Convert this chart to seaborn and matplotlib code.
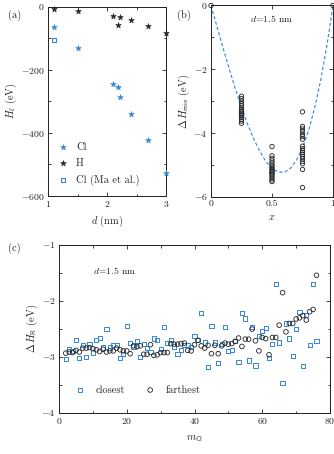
import matplotlib
matplotlib.use("Agg")
import matplotlib.pyplot as plt
import seaborn as sns
import numpy as np
import pandas as pd
from matplotlib.ticker import MultipleLocator

sns.set_style("ticks")
plt.rcParams['font.family'] = ['serif']
plt.rcParams['font.serif'] = ['cmr10', 'DejaVu Serif']
plt.rcParams['mathtext.fontset'] = 'cm'
plt.rcParams['axes.formatter.use_mathtext'] = True
plt.rcParams['font.size'] = 7

BLUE = "#3385d6"
DARK = "#222222"

# (a) formation enthalpy vs nanotube diameter
d_nm = [1.1, 1.5, 2.1, 2.18, 2.22, 2.4, 2.7, 3.0]
hf_cl = [-66, -132, -246, -256, -287, -340, -424, -526]
hf_h = [-7, -14, -30, -60, -34, -44, -61, -85]
d_ma = [1.1]
hf_ma = [-106]

# (b) mixing enthalpy, d = 1.5 nm
mix_x0 = [0.0]
mix_y0 = [0.0]
mix_y25 = [-2.85, -2.92, -3.0, -3.08, -3.15, -3.22, -3.28, -3.33, -3.38,
           -3.42, -3.47, -3.52, -3.58, -3.63, -3.70]
mix_y50 = [-4.43, -4.72, -4.80, -4.88, -4.95, -5.02, -5.08, -5.13, -5.18,
           -5.22, -5.26, -5.30, -5.36, -5.42, -5.48, -5.53]
mix_y75 = [-3.34, -3.80, -3.88, -3.96, -4.05, -4.12, -4.20, -4.42, -4.50,
           -4.56, -4.62, -4.68, -4.75, -4.82, -4.90, -4.97, -5.15, -5.72]
mix_y100 = [0.0]
fit_x = [0.0, 0.05, 0.1, 0.15, 0.2, 0.25, 0.3, 0.35, 0.4, 0.45, 0.5,
         0.55, 0.6, 0.65, 0.7, 0.75, 0.8, 0.85, 0.9, 0.95, 1.0]
fit_y = [0.0, -0.68, -1.35, -2.00, -2.62, -3.20, -3.73, -4.19, -4.58, -4.90,
         -5.12, -5.23, -5.24, -5.12, -4.87, -4.47, -3.93, -3.21, -2.33, -1.26, 0.0]

# (c) reaction enthalpy vs number of Cl
m_cl = list(range(2, 77))
hr_closest = [-3.05, -2.86, -2.90, -2.71, -3.02, -2.80, -3.01, -2.77, -2.93,
              -2.71, -2.67, -2.84, -2.51, -2.84, -2.79, -2.80, -3.02, -2.96,
              -2.46, -2.76, -2.82, -2.73, -3.01, -2.77, -2.85, -2.92, -2.68,
              -2.71, -2.86, -2.47, -2.76, -2.71, -2.82, -2.95, -2.89, -2.79,
              -2.80, -2.83, -2.64, -2.71, -2.22, -2.75, -3.19, -2.46, -2.75,
              -3.11, -2.78, -2.47, -2.90, -2.88, -2.72, -3.10, -2.22, -2.32,
              -3.07, -2.48, -3.16, -2.64, -2.55, -2.49, -3.02, -2.78, -1.71,
              -2.75, -3.47, -2.41, -2.68, -2.99, -2.51, -2.21, -3.17, -2.26,
              -2.80, -1.71, -2.72]
hr_farthest = [-2.94, -2.92, -2.93, -2.89, -2.92, -2.85, -2.85, -2.84, -2.86,
               -2.88, -2.91, -2.87, -2.92, -2.90, -2.90, -2.85, -2.88, -2.90,
               -2.90, -2.95, -2.81, -2.82, -2.81, -2.96, -2.96, -2.79, -2.98,
               -2.97, -2.93, -2.93, -2.93, -2.77, -2.78, -2.78, -2.77, -2.76,
               -2.89, -2.90, -2.79, -2.71, -2.81, -2.85, -2.80, -2.95, -2.80,
               -2.95, -2.81, -2.76, -2.78, -2.77, -2.73, -2.67, -2.82, -2.69,
               -2.69, -2.51, -2.72, -2.90, -2.66, -2.68, -2.97, -2.66, -2.66,
               -2.44, -1.86, -2.56, -2.41, -2.41, -2.33, -2.31, -2.27, -2.35,
               -2.20, -2.16, -1.55]

W, H = 334, 454
fig = plt.figure(figsize=(W / 100, H / 100), dpi=100)


def box(l, t, r, b):
    return [l / W, 1 - b / H, (r - l) / W, (b - t) / H]


def style(ax):
    ax.tick_params(direction='in', top=True, right=True, which='both',
                   width=0.6, colors=DARK, labelsize=7, pad=2.5)
    ax.tick_params(which='major', length=3)
    ax.tick_params(which='minor', length=1.8)
    for s in ax.spines.values():
        s.set_linewidth(0.7)
        s.set_color(DARK)
        s.set_visible(True)


# ---- (a)
ax1 = fig.add_axes(box(48, 6.5, 166, 196))
df_a = pd.DataFrame({'d': d_nm, 'cl': hf_cl, 'h': hf_h})
sns.scatterplot(data=df_a, x='d', y='cl', ax=ax1, marker='*', s=18,
                color=BLUE, edgecolor=BLUE, linewidth=0.4, label='Cl', clip_on=False, zorder=3)
sns.scatterplot(data=df_a, x='d', y='h', ax=ax1, marker='*', s=18,
                color=DARK, edgecolor=DARK, linewidth=0.4, label='H', clip_on=False, zorder=3)
sns.scatterplot(x=d_ma, y=hf_ma, ax=ax1, marker='s', s=9, facecolor='none',
                edgecolor=BLUE, linewidth=0.8, label='Cl (Ma et al.)', clip_on=False, zorder=3)
ax1.set_xlim(1, 3)
ax1.set_ylim(-600, 0)
ax1.xaxis.set_major_locator(MultipleLocator(1))
ax1.xaxis.set_minor_locator(MultipleLocator(0.5))
ax1.yaxis.set_major_locator(MultipleLocator(200))
ax1.yaxis.set_minor_locator(MultipleLocator(100))
ax1.set_xlabel('$d$ (nm)', fontsize=7.5, labelpad=3)
ax1.set_ylabel('$H_\\mathrm{f}$ (eV)', fontsize=7.5, labelpad=1)
ax1.legend(loc='lower left', bbox_to_anchor=(0.0, 0.01), frameon=False, fontsize=7.5,
           handletextpad=0.7, borderpad=0.3, labelspacing=0.62, handlelength=1.2)
style(ax1)

# ---- (b)
ax2 = fig.add_axes(box(211, 5.5, 333, 196.5))
bx = (mix_x0 + [0.25] * len(mix_y25) + [0.5] * len(mix_y50)
      + [0.75] * len(mix_y75) + [1.0])
by = mix_y0 + mix_y25 + mix_y50 + mix_y75 + mix_y100
sns.lineplot(x=fit_x, y=fit_y, ax=ax2, color=BLUE, linewidth=0.8,
             linestyle=(0, (3, 2)), zorder=2)
sns.scatterplot(x=bx, y=by, ax=ax2, marker='o', s=10, facecolor='none',
                edgecolor=DARK, linewidth=0.6, clip_on=False, zorder=3)
ax2.set_xlim(0, 1)
ax2.set_ylim(-6, 0)
ax2.xaxis.set_major_locator(MultipleLocator(0.5))
ax2.yaxis.set_major_locator(MultipleLocator(2))
ax2.yaxis.set_minor_locator(MultipleLocator(1))
ax2.xaxis.set_major_formatter(plt.FuncFormatter(lambda v, p: f'{v:g}'))
ax2.set_xlabel('$x$', fontsize=7.5, labelpad=3)
ax2.set_ylabel('$\\Delta\\, H_\\mathsf{mix}$ (eV)', fontsize=7.5, labelpad=1)
ax2.text(0.5, -0.42, '$d$=1.5 nm', ha='center', va='center', fontsize=7)
style(ax2)

# ---- (c)
ax3 = fig.add_axes(box(59, 244.5, 330, 412.5))
df_c = pd.DataFrame({'m': m_cl, 'closest': hr_closest, 'farthest': hr_farthest})
sns.scatterplot(data=df_c, x='m', y='closest', ax=ax3, marker='s', s=9,
                facecolor='none', edgecolor=BLUE, linewidth=0.7, label='closest', zorder=3)
sns.scatterplot(data=df_c, x='m', y='farthest', ax=ax3, marker='o', s=11,
                facecolor='none', edgecolor=DARK, linewidth=0.6, label='farthest', zorder=3)
ax3.set_xlim(0, 80)
ax3.set_ylim(-4, -1)
ax3.xaxis.set_major_locator(MultipleLocator(20))
ax3.xaxis.set_minor_locator(MultipleLocator(10))
ax3.yaxis.set_major_locator(MultipleLocator(1))
ax3.yaxis.set_minor_locator(MultipleLocator(0.5))
ax3.set_xlabel('$m_\\mathsf{Cl}$', fontsize=7.5, labelpad=5)
ax3.set_ylabel('$\\Delta\\, H_\\mathsf{R}$ (eV)', fontsize=7.5, labelpad=1)
ax3.text(10, -1.46, '$d$=1.5 nm', ha='left', va='center', fontsize=7)
ax3.legend(loc='lower left', bbox_to_anchor=(0.02, 0.05), ncol=2, frameon=False,
           fontsize=7.5, handletextpad=0.9, columnspacing=1.8, handlelength=1.2)
style(ax3)

fig.text(8 / W, 1 - 15 / H, '(a)', fontsize=7.5, va='center')
fig.text(177 / W, 1 - 15 / H, '(b)', fontsize=7.5, va='center')
fig.text(8 / W, 1 - 248 / H, '(c)', fontsize=7.5, va='center')

fig.savefig('out.png', dpi=100)
